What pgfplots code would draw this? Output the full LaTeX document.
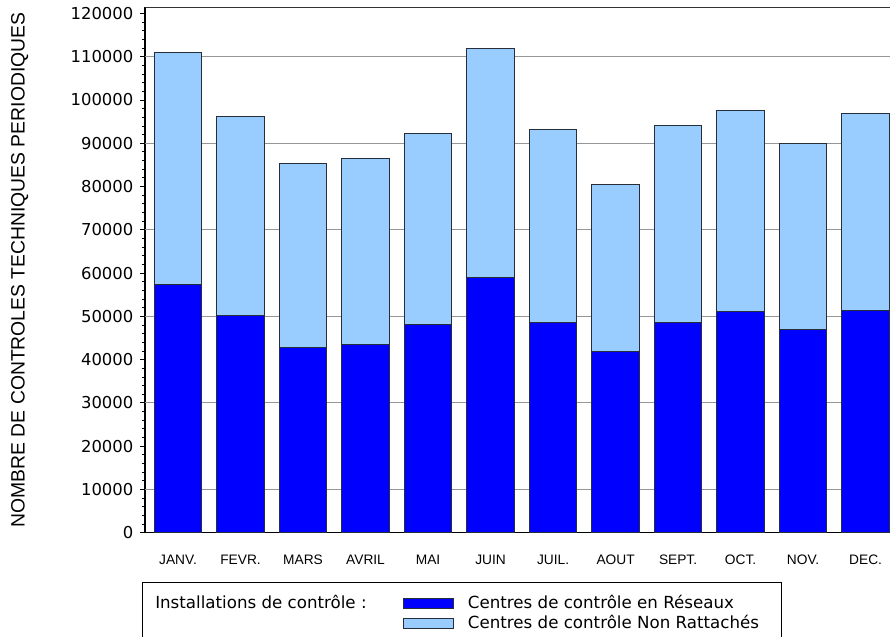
\documentclass[border=0pt]{standalone}
\usepackage{pgfplots}
\pgfplotsset{compat=1.18}
\usepackage{fontspec}
\setmainfont{DejaVu Sans}
\newfontfamily\arialf{Liberation Sans}
\definecolor{darkb}{RGB}{0,0,255}
\definecolor{lightb}{RGB}{153,204,255}
\definecolor{edgec}{RGB}{38,46,58}
\definecolor{gridc}{RGB}{150,150,150}
\begin{document}
\begin{tikzpicture}
\begin{axis}[
  name=ax,
  at={(0,0)}, anchor=south west,
  width=558.75pt, height=394.05pt, scale only axis,
  ybar stacked, bar width=0.76,
  xmin=-0.528, xmax=11.39,
  ymin=0, ymax=121400,
  axis x line*=bottom, axis y line*=left,
  axis line style={black, line width=0.8pt},
  xtick={0,...,11},
  xticklabels={JANV.,FEVR.,MARS,AVRIL,MAI,JUIN,JUIL.,AOUT,SEPT.,OCT.,NOV.,DEC.},
  xtick style={draw=none},
  xtick align=inside,
  xticklabel style={anchor=base, yshift=-24.2pt, font=\arialf\fontsize{10.3}{12}\selectfont},
  ytick={0,10000,...,120000},
  minor y tick num=4,
  ytick align=outside,
  major tick length=3.75pt, minor tick length=2pt,
  ytick style={black, line width=0.6pt},
  minor tick style={black, line width=0.6pt},
  scaled y ticks=false,
  yticklabel style={xshift=-1.5pt, font=\fontsize{12.3}{14}\selectfont, /pgf/number format/.cd, fixed, 1000 sep={}, assume math mode=true},
  extra y ticks={10000,30000,50000,70000,90000,110000},
  extra y tick labels={},
  extra y tick style={grid=major, major tick length=0pt},
  major grid style={gridc, line width=0.8pt},
  ylabel={NOMBRE DE CONTROLES TECHNIQUES PERIODIQUES},
  every axis y label/.style={at={(rel axis cs:0,0.5)}, xshift=-94pt, rotate=90, anchor=center, font=\arialf\fontsize{14.5}{16}\selectfont},
  legend style={draw=none, fill=none, at={(axis description cs:0.3463,-0.1193)}, anchor=north west,
    font=\fontsize{12.5}{15}\selectfont, inner sep=0pt, outer sep=0pt, row sep=2.5pt,
    nodes={inner sep=0pt, text height=9.5pt, text depth=3pt},
    /tikz/every odd column/.append style={column sep=10.5pt}},
  legend cell align=left,
]
\addplot[fill=darkb, draw=edgec, line width=0.75pt,
  legend image code/.code={\draw[fill=darkb, draw=edgec, line width=0.75pt] (0pt,-3.75pt) rectangle (37.5pt,3.75pt);}]
  coordinates {(0,57300) (1,50100) (2,42800) (3,43550) (4,48000) (5,59000) (6,48600) (7,41900) (8,48600) (9,51150) (10,47050) (11,51450)};
\addlegendentry{Centres de contrôle en Réseaux}
\addplot[fill=lightb, draw=edgec, line width=0.75pt,
  legend image code/.code={\draw[fill=lightb, draw=edgec, line width=0.75pt] (0pt,-3.75pt) rectangle (37.5pt,3.75pt);}]
  coordinates {(0,53600) (1,46000) (2,42600) (3,42950) (4,44300) (5,53000) (6,44600) (7,38600) (8,45500) (9,46400) (10,43000) (11,45500)};
\addlegendentry{Centres de contrôle Non Rattachés}
\draw[black!80, line width=0.8pt] (rel axis cs:0,1) -- (rel axis cs:1,1);
\end{axis}
\node[anchor=base west, inner sep=0pt, font=\fontsize{12.5}{15}\selectfont] at ([shift={(7.5pt,-56.5pt)}]ax.south west) {Installations de contrôle :};
\draw[black, line width=0.75pt] ([shift={(-1.5pt,-37.7pt)}]ax.south west) rectangle ([shift={(477pt,-120pt)}]ax.south west);
\pgfresetboundingbox
\path ([shift={(-108.75pt,-78.2pt)}]ax.south west) rectangle ([shift={(0pt,5.5pt)}]ax.north east);
\end{tikzpicture}
\end{document}
